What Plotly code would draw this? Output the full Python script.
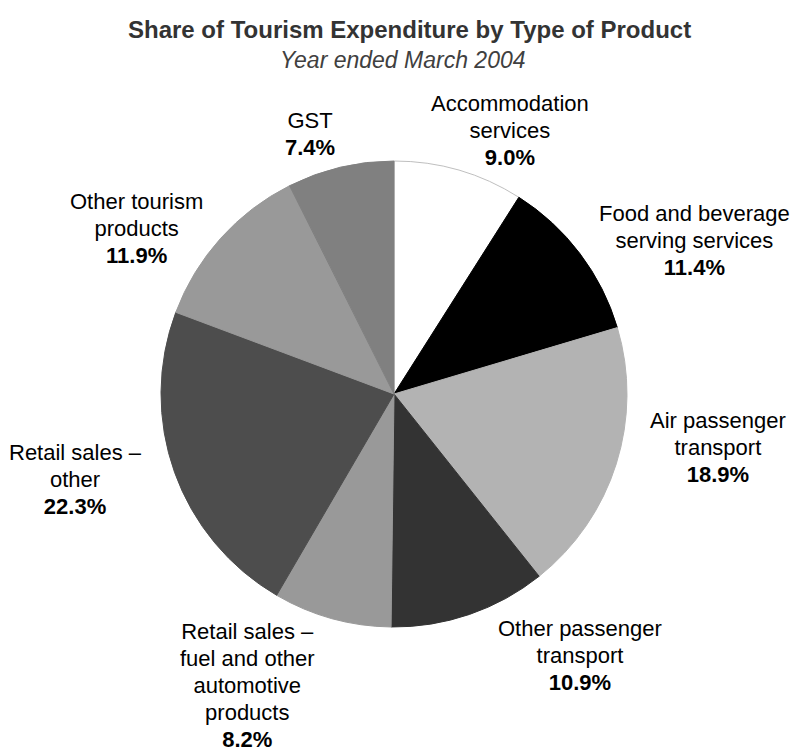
import plotly.graph_objects as go

# Share of tourism expenditure, year ended March 2004 (percent)
categories = [
    "Accommodation services",
    "Food and beverage serving services",
    "Air passenger transport",
    "Other passenger transport",
    "Retail sales – fuel and other automotive products",
    "Retail sales – other",
    "Other tourism products",
    "GST",
]
shares = [9.0, 11.4, 18.9, 10.9, 8.2, 22.3, 11.9, 7.4]

# Wrapped label text for each slice
label_lines = [
    ["Accommodation", "services"],
    ["Food and beverage", "serving services"],
    ["Air passenger", "transport"],
    ["Other passenger", "transport"],
    ["Retail sales –", "fuel and other", "automotive", "products"],
    ["Retail sales –", "other"],
    ["Other tourism", "products"],
    ["GST"],
]

slice_colors = ["#ffffff", "#000000", "#b3b3b3", "#333333",
                "#999999", "#4d4d4d", "#999999", "#808080"]
edge_colors = ["#bfbfbf", "#000000", "#b3b3b3", "#333333",
               "#999999", "#4d4d4d", "#999999", "#808080"]

# Label block centres (paper fractions)
label_pos = [
    (0.644, 0.827),
    (0.877, 0.681),
    (0.906, 0.406),
    (0.732, 0.130),
    (0.312, 0.089),
    (0.095, 0.363),
    (0.172, 0.697),
    (0.391, 0.822),
]

W, H = 792, 753
cx, cy, R = 394, 394, 233

fig = go.Figure()
fig.add_trace(go.Pie(
    labels=categories,
    values=shares,
    sort=False,
    direction="clockwise",
    rotation=0,
    marker=dict(colors=slice_colors, line=dict(color=edge_colors, width=1)),
    textinfo="none",
    hoverinfo="label+percent",
    showlegend=False,
    domain=dict(x=[(cx - R) / W, (cx + R) / W],
                y=[(H - cy - R) / H, (H - cy + R) / H]),
))

for lines, val, (px, py) in zip(label_lines, shares, label_pos):
    body = "<br>".join(lines) + f"<br><b>{val:.1f}%</b>"
    fig.add_annotation(
        x=px, y=py, xref="paper", yref="paper",
        text=f'<span style="font-size:22px">{body}</span>',
        showarrow=False, align="center",
        xanchor="center", yanchor="middle",
        font=dict(family="Liberation Sans, Arial, sans-serif", size=20.8, color="#000000"),
    )

fig.add_annotation(
    x=410 / W, y=1 - 30 / H, xref="paper", yref="paper",
    text="<b>Share of Tourism Expenditure by Type of Product</b>",
    showarrow=False, xanchor="center", yanchor="middle",
    font=dict(family="Liberation Sans Narrow, Arial Narrow, Liberation Sans, sans-serif",
              size=24, color="#333333"),
)
fig.add_annotation(
    x=403 / W, y=1 - 60 / H, xref="paper", yref="paper",
    text="<i>Year ended March 2004</i>",
    showarrow=False, xanchor="center", yanchor="middle",
    font=dict(family="Liberation Sans Narrow, Arial Narrow, Liberation Sans, sans-serif",
              size=23, color="#404040"),
)

fig.update_layout(
    width=W, height=H,
    margin=dict(l=0, r=0, t=0, b=0),
    paper_bgcolor="#ffffff",
    plot_bgcolor="#ffffff",
)

fig.write_html("out.html")
